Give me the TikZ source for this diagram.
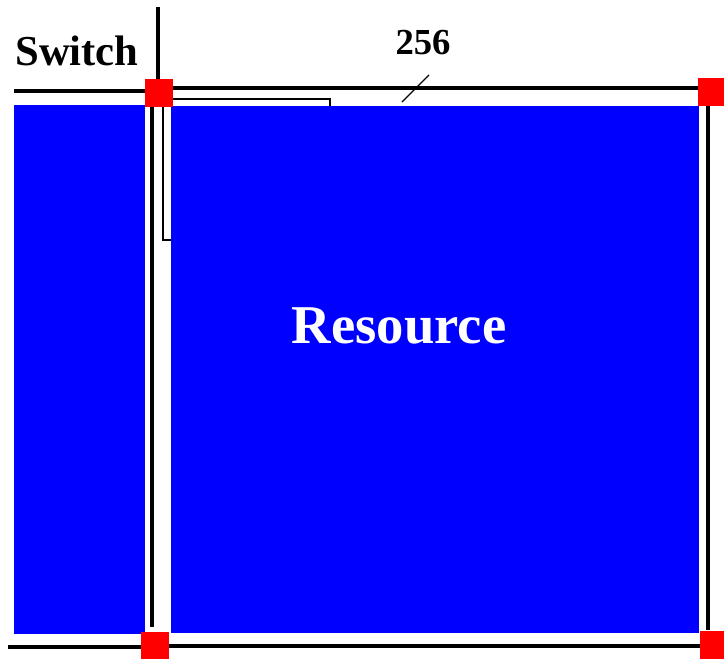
\documentclass[tikz,border=0pt]{standalone}
\usepackage{fontspec}
\setmainfont{Liberation Serif}
\begin{document}
\begin{tikzpicture}[x=0.75pt,y=-0.75pt,
	sw/.style={fill=red,draw=none,inner sep=0,outer sep=0,minimum size=21pt},
	bus/.style={line width=2.3pt},
	res/.style={fill=blue,draw=none}]
	\useasboundingbox (0,0) rectangle (724,658);
	% box under the resource
	\draw[line width=1.8pt] (163,99) rectangle (330,240);
	\fill[res] (14,105) rectangle (145,634);
	\fill[res] (171,106) rectangle (699,633);
	\node[sw] (tl) at (159,93) {};
	\node[sw] (tr) at (712,92) {};
	\node[sw] (bl) at (155,646) {};
	\node[sw] (br) at (714,645) {};
	\coordinate (top) at (158,7);
	\coordinate (lend) at (14,91);
	\coordinate (bend) at (8,647);
	\coordinate (lbot) at (152,627);
	\coordinate (rbot) at (708,630);
	\draw[bus] (top) -- (top |- tl.north);
	\draw[bus] (lend) -- (lend -| tl.west);
	\draw[bus] ([yshift=3.75pt]tl.east) -- ([yshift=3pt]tr.west);
	\draw[bus] (lbot |- tl.south) -- (lbot);
	\draw[bus] (rbot |- tr.south) -- (rbot);
	\draw[bus] (bend) -- (bend -| bl.west);
	\draw[bus] (bl.east) -- (bl.east -| br.west);
	\draw[line width=0.9pt] (402,102) -- (429,75);
	\node[font=\bfseries\fontsize{32}{32}\selectfont] (swlabel) at (77,51) {Switch};
	\node[font=\bfseries\fontsize{27.5}{28}\selectfont] (width) at (423,43) {256};
	\node[font=\bfseries\fontsize{41}{41}\selectfont,text=white] (resource) at (399,326) {Resource};
\end{tikzpicture}
\end{document}
